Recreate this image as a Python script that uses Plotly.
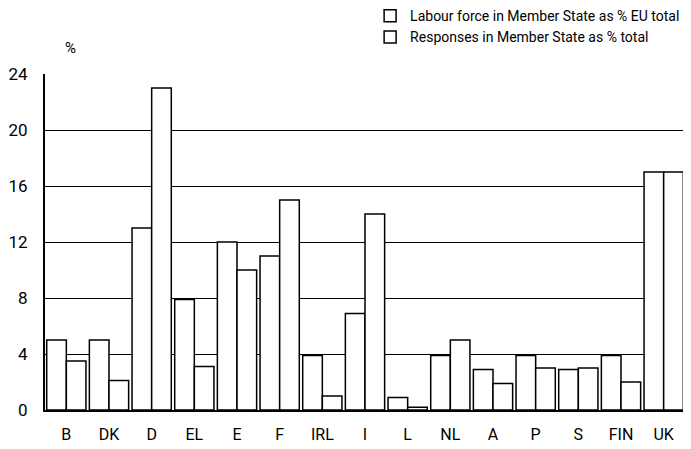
import plotly.graph_objects as go

countries = ["B", "DK", "D", "EL", "E", "F", "IRL", "I", "L", "NL", "A", "P", "S", "FIN", "UK"]
labour_force = [5.0, 5.0, 13.0, 7.9, 12.0, 11.0, 3.9, 6.9, 0.9, 3.9, 2.9, 3.9, 2.9, 3.9, 17.0]
responses = [3.5, 2.1, 23.0, 3.1, 10.0, 15.0, 1.0, 14.0, 0.2, 5.0, 1.9, 3.0, 3.0, 2.0, 17.0]
y_ticks = [0, 4, 8, 12, 16, 20, 24]

FONT = "Liberation Sans Narrow, Arial Narrow, Roboto, sans-serif"

fig = go.Figure()
fig.add_trace(go.Bar(
    x=countries, y=labour_force, name="Labour force in Member State as % EU total",
    marker=dict(color="white", line=dict(color="black", width=1.5)),
))
fig.add_trace(go.Bar(
    x=countries, y=responses, name="Responses in Member State as % total",
    marker=dict(color="white", line=dict(color="black", width=1.5)),
))

fig.update_layout(
    width=683, height=441,
    margin=dict(l=37, r=6, t=66, b=39, autoexpand=False),
    paper_bgcolor="white", plot_bgcolor="white",
    barmode="group", bargap=0.08, bargroupgap=0,
    font=dict(family=FONT, size=15, color="black"),
    showlegend=True,
    legend=dict(
        x=0.508, y=1.22, xanchor="left", yanchor="top",
        font=dict(family=FONT, size=14, color="black"),
        bgcolor="rgba(0,0,0,0)", tracegroupgap=0, itemwidth=30,
    ),
    xaxis=dict(
        showline=True, linecolor="black", linewidth=2,
        ticks="", ticklabelstandoff=9, tickfont=dict(family=FONT, size=16),
        showgrid=False,
    ),
    yaxis=dict(
        range=[0, 24], tickvals=y_ticks, ticktext=[str(v) for v in y_ticks],
        showline=True, linecolor="black", linewidth=2,
        showgrid=True, gridcolor="black", gridwidth=1.3,
        ticks="", ticklabelstandoff=12, tickfont=dict(family=FONT, size=17),
        zeroline=False,
    ),
    annotations=[
        dict(text="%", xref="paper", yref="paper", x=0.028, y=1.11,
             showarrow=False, font=dict(family=FONT, size=15)),
    ],
)

fig.write_html("out.html")
